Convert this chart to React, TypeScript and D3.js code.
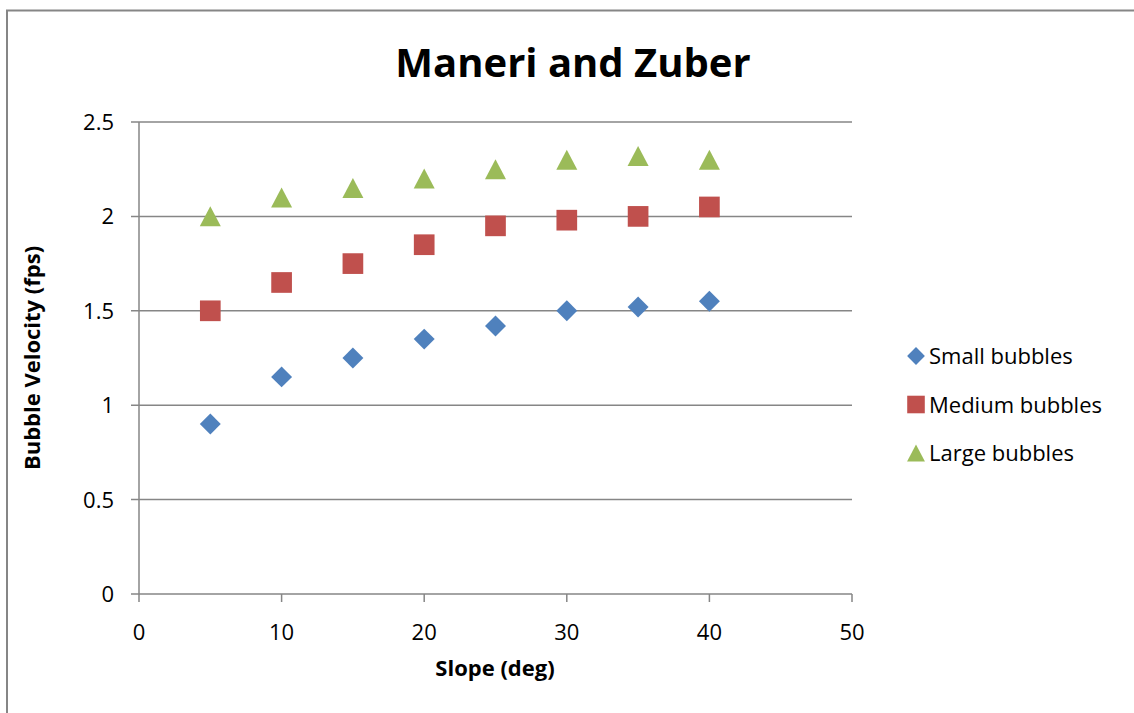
import React from "react";
import * as d3 from "d3";

const slopes = [5, 10, 15, 20, 25, 30, 35, 40];
const smallBubbles = [0.9, 1.15, 1.25, 1.35, 1.42, 1.5, 1.52, 1.55];
const mediumBubbles = [1.5, 1.65, 1.75, 1.85, 1.95, 1.98, 2.0, 2.05];
const largeBubbles = [2.0, 2.1, 2.15, 2.2, 2.25, 2.3, 2.32, 2.3];
const seriesNames = ["Small bubbles", "Medium bubbles", "Large bubbles"];
const xTicks = [0, 10, 20, 30, 40, 50];
const yTicks = [0, 0.5, 1, 1.5, 2, 2.5];

const W = 1134;
const H = 713;
const FONT = "'Open Sans', 'Noto Sans', sans-serif";
const GRID = "#868686";

const x = d3.scaleLinear().domain([0, 50]).range([139, 852]);
const y = d3.scaleLinear().domain([0, 2.5]).range([594, 122]);

const series = [
  { name: seriesNames[0], values: smallBubbles, color: "#4F81BD", shape: d3.symbolDiamond, size: 127, sx: 1.73, dy: 0 },
  { name: seriesNames[1], values: mediumBubbles, color: "#C0504D", shape: d3.symbolSquare, size: 428, sx: 1, dy: 0 },
  { name: seriesNames[2], values: largeBubbles, color: "#9BBB59", shape: d3.symbolTriangle, size: 231, sx: 0.91, dy: 3.3 },
];

function Marker({ s, cx, cy, scale = 1 }) {
  const path = d3.symbol().type(s.shape).size(s.size * scale * scale)();
  return (
    <path
      d={path}
      transform={`translate(${cx},${cy + s.dy * scale}) scale(${s.sx},1)`}
      fill={s.color}
    />
  );
}

export default function App() {
  return (
    <svg
      width={W}
      height={H}
      style={{ position: "absolute", left: 0, top: 0, background: "#fff" }}
    >
      {/* chart area border */}
      <path d={`M7,${H + 5} V10.5 H${W + 5}`} fill="none" stroke={GRID} strokeWidth={2} />

      <text
        x={573}
        y={77}
        textAnchor="middle"
        fontFamily={FONT}
        fontWeight="bold"
        fontSize={40}
      >
        Maneri and Zuber
      </text>

      {/* horizontal gridlines and y ticks */}
      {yTicks.map((t) => (
        <g key={t}>
          <line x1={131} x2={852} y1={y(t)} y2={y(t)} stroke={GRID} strokeWidth={1.5} />
          <text
            x={114}
            y={y(t) + 8}
            textAnchor="end"
            fontFamily={FONT}
            fontSize={22}
          >
            {t}
          </text>
        </g>
      ))}

      {/* y axis line */}
      <line x1={139} x2={139} y1={122} y2={594} stroke={GRID} strokeWidth={1.5} />

      {/* x ticks */}
      {xTicks.map((t) => (
        <g key={t}>
          <line x1={x(t)} x2={x(t)} y1={594} y2={602} stroke={GRID} strokeWidth={1.5} />
          <text
            x={x(t)}
            y={640}
            textAnchor="middle"
            fontFamily={FONT}
            fontSize={22}
          >
            {t}
          </text>
        </g>
      ))}

      <text
        x={495}
        y={676}
        textAnchor="middle"
        fontFamily={FONT}
        fontWeight="bold"
        fontSize={22}
      >
        Slope (deg)
      </text>
      <text
        transform="translate(40,358) rotate(-90)"
        textAnchor="middle"
        fontFamily={FONT}
        fontWeight="bold"
        fontSize={22}
      >
        Bubble Velocity (fps)
      </text>

      {/* data markers */}
      {series.map((s) => (
        <g key={s.name}>
          {s.values.map((v, i) => (
            <Marker key={i} s={s} cx={x(slopes[i])} cy={y(v)} />
          ))}
        </g>
      ))}

      {/* legend */}
      {series.map((s, i) => {
        const ly = 356 + i * 48.5;
        return (
          <g key={s.name}>
            <Marker s={s} cx={916} cy={ly} scale={0.85} />
            <text x={929} y={ly + 8} fontFamily={FONT} fontSize={22}>
              {s.name}
            </text>
          </g>
        );
      })}
    </svg>
  );
}
